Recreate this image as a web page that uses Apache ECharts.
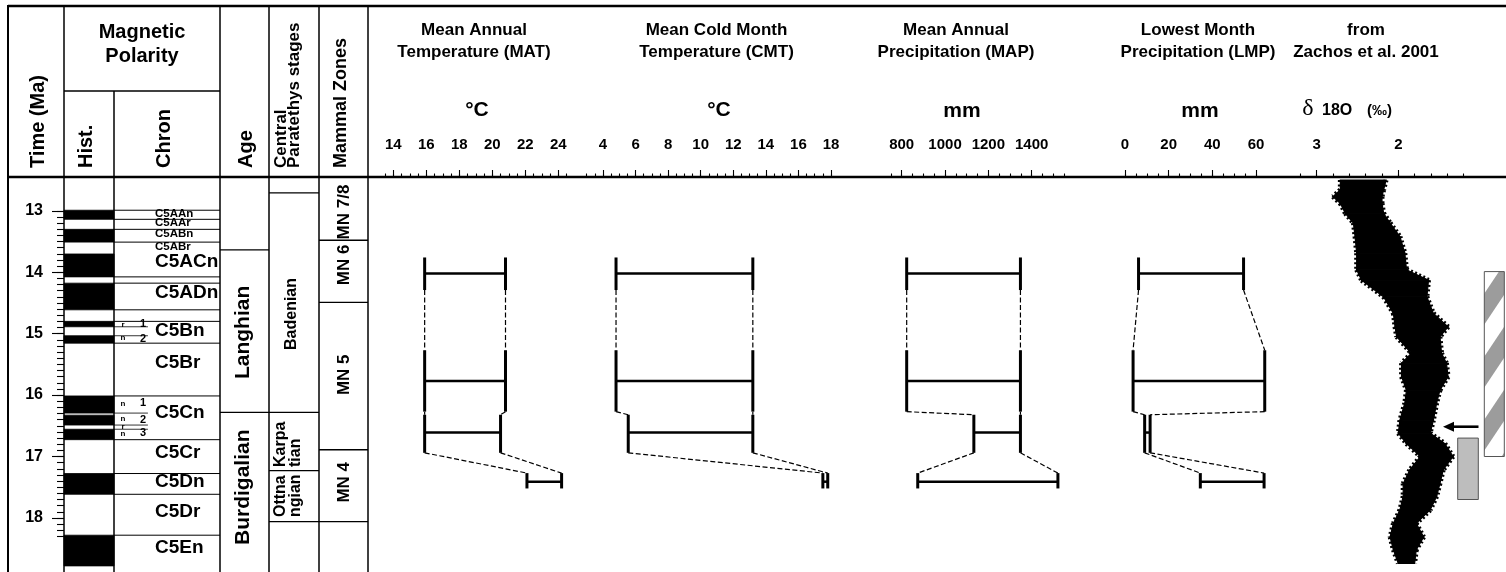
<!DOCTYPE html>
<html>
<head>
<meta charset="utf-8">
<title>Middle Miocene climate record</title>
<script src="https://cdn.jsdelivr.net/npm/echarts@6.0.0/dist/echarts.min.js"></script>
<style>
html,body{margin:0;padding:0;background:#fff;}
#chart{width:1506px;height:572px;}
</style>
</head>
<body>
<div id="chart"></div>
<script>
// ====================== DATA ======================
// time scale (Ma)
const TIME_TOP = 12.45;
const TIME_BOTTOM = 18.88;
const TIME_MAJOR = [13, 18, 1];      // min, max, interval
const TIME_MINOR = [13, 18.3, 0.1];

// magnetic polarity: normal (black) intervals, Ma
const NORMAL_TOP    = [12.991, 13.302, 13.703, 14.178, 14.800, 15.034, 16.014, 16.327, 16.556, 17.277, 18.281];
const NORMAL_BOTTOM = [13.139, 13.510, 14.076, 14.612, 14.888, 15.155, 16.293, 16.488, 16.726, 17.615, 18.781];

// chron column
const CHRON_LINES = [12.991, 13.139, 13.302, 13.510, 14.076, 14.178, 14.612, 14.800, 15.155, 16.014, 16.726, 17.277, 17.615, 18.281];
const CHRON_SMALL = ['C5AAn', 'C5AAr', 'C5ABn', 'C5ABr'];
const CHRON_SMALL_T = [13.05, 13.19, 13.38, 13.58];
const CHRON_NAMES = ['C5ACn', 'C5ADn', 'C5Bn', 'C5Br', 'C5Cn', 'C5Cr', 'C5Dn', 'C5Dr', 'C5En'];
const CHRON_T = [13.83, 14.33, 14.96, 15.48, 16.29, 16.94, 17.41, 17.90, 18.49];
const SUBCHRON_LINES = [14.888, 15.034, 16.293, 16.488, 16.556];
const SUBCHRON_TEXT = ['r', '1', 'n', '2', 'n', '1', 'n', '2', 'r', 'n', '3'];
const SUBCHRON_T = [14.85, 14.84, 15.07, 15.09, 16.14, 16.13, 16.39, 16.41, 16.52, 16.63, 16.62];

// stages / zones
const AGE_LINES = [13.635, 16.28];
const AGE_NAMES = ['Langhian', 'Burdigalian'];
const AGE_T = [14.98, 17.50];
const CP_LINES = [12.71, 16.28, 17.23, 18.06];
const CP_NAMES = ['Badenian'];
const CP_T = [14.68];
const CP_STACKED = ['Karpa\ntian', 'Ottna\nngian'];
const CP_STACKED_T = [17.17, 17.985];
const MN_LINES = [13.48, 14.49, 16.89, 18.06];
const MN_NAMES = ['MN 7/8', 'MN 6', 'MN 5', 'MN 4'];
const MN_T = [13.02, 13.88, 15.67, 17.42];

// climate time slices (Ma)
const SLICE_TOP    = [13.76, 15.27, 16.32, 17.27];
const SLICE_BOTTOM = [14.29, 16.27, 16.94, 17.52];
const SLICE_MID    = [14.02, 15.77, 16.61, 17.41];
const MAT_MIN = [15.9, 15.9, 15.9, 22.1];
const MAT_MAX = [20.8, 20.8, 20.5, 24.2];
const CMT_MIN = [4.8, 4.8, 5.55, 17.5];
const CMT_MAX = [13.2, 13.2, 13.2, 17.8];
const MAP_MIN = [823, 823, 1133, 874];
const MAP_MAX = [1348, 1348, 1348, 1521];
const LMP_MIN = [6.2, 3.7, 9.0, 34.5];
const LMP_MAX = [54.3, 64.0, 11.5, 63.7];

// axis ticks: [min, max, interval]
const MAT_MAJOR = [14, 24, 2],     MAT_MINOR = [13.5, 24.5, 0.5];
const CMT_MAJOR = [4, 18, 2],      CMT_MINOR = [3, 18, 0.5];
const MAP_MAJOR = [800, 1400, 200], MAP_MINOR = [750, 1550, 50];
const LMP_MAJOR = [0, 60, 20],     LMP_MINOR = [0, 60, 5];
const D18O_MAJOR = [2, 3, 1],      D18O_MINOR = [1.2, 3.2, 0.2];

// benthic d18O envelope (Zachos et al. 2001)
const D18O_T     = [12.50, 12.66, 12.77, 12.88, 13.04, 13.20, 13.42, 13.69, 13.96, 14.13, 14.40, 14.67, 14.89, 15.05, 15.32, 15.48, 15.70, 15.92, 16.13, 16.41, 16.62, 16.79, 17.00, 17.22, 17.44, 17.65, 17.87, 18.09, 18.31, 18.52, 18.74];
const D18O_HIGH  = [2.71, 2.71, 2.80, 2.71, 2.65, 2.55, 2.53, 2.51, 2.51, 2.45, 2.18, 2.06, 2.04, 2.02, 1.84, 1.96, 1.96, 1.90, 1.92, 1.98, 2.00, 1.90, 1.73, 1.86, 1.94, 1.94, 1.98, 2.06, 2.10, 2.06, 2.00];
const D18O_LOW   = [2.15, 2.18, 2.20, 2.20, 2.18, 2.10, 1.98, 1.92, 1.90, 1.63, 1.65, 1.57, 1.39, 1.49, 1.47, 1.41, 1.39, 1.49, 1.53, 1.57, 1.61, 1.43, 1.33, 1.45, 1.49, 1.53, 1.61, 1.78, 1.69, 1.78, 1.80];

// annotation intervals beside the d18O curve (Ma)
const HATCH_T = [13.99, 17.00];
const GREY_T = [16.70, 17.70];
const ARROW_T = [16.515];

// ====================== LAYOUT ======================
const BODY_TOP = 177, BODY_H = 395;
const FF = '"Liberation Sans", Arial, Helvetica, sans-serif';
function yOf(t) { return BODY_TOP + (t - TIME_TOP) / (TIME_BOTTOM - TIME_TOP) * BODY_H; }

// pixel anchors of each panel scale [valueA, pxA, valueB, pxB]
const ANCHOR = {
  MAT: [14, 393.3, 24, 558.3],
  CMT: [4, 603, 18, 831],
  MAP: [800, 901.7, 1400, 1031.7],
  LMP: [0, 1125, 60, 1256],
  D18O: [3, 1316.7, 2, 1398.3]
};
function pxOf(a, v) { return a[1] + (v - a[0]) * (a[3] - a[1]) / (a[2] - a[0]); }

const grids = [], xAxes = [], yAxes = [], series = [];
function addGrid(left, width, top, height, xCfg, yCfg) {
  const gi = grids.length;
  grids.push({ left: left, top: top, width: width, height: height, show: false, containLabel: false, outerBoundsMode: 'none' });
  xAxes.push(Object.assign({ gridIndex: gi, type: 'value', show: false, min: 0, max: 1 }, xCfg || {}));
  yAxes.push(Object.assign({ gridIndex: gi, type: 'value', show: false, min: TIME_TOP, max: TIME_BOTTOM, inverse: true }, yCfg || {}));
  return gi;
}

// ---- time axis ----
const tickLine = { color: '#000', width: 1.1 };
addGrid(64, 10, yOf(TIME_MAJOR[0]), yOf(TIME_MAJOR[1]) - yOf(TIME_MAJOR[0]), null, {
  show: true, position: 'left', min: TIME_MAJOR[0], max: TIME_MAJOR[1], interval: TIME_MAJOR[2], inverse: true,
  axisLine: { show: false }, splitLine: { show: false },
  axisTick: { show: true, length: 12, lineStyle: tickLine },
  axisLabel: { show: true, margin: 21, color: '#000', fontSize: 16, fontWeight: 'bold', fontFamily: FF }
});
addGrid(64, 10, yOf(TIME_MINOR[0]), yOf(TIME_MINOR[1]) - yOf(TIME_MINOR[0]), null, {
  show: true, position: 'left', min: TIME_MINOR[0], max: TIME_MINOR[1], interval: TIME_MINOR[2], inverse: true,
  axisLine: { show: false }, splitLine: { show: false },
  axisTick: { show: true, length: 7, lineStyle: tickLine },
  axisLabel: { show: false }
});

// ---- stratigraphic columns ----
const COL = { hist: [64, 114], chron: [114, 220], age: [220, 269], cp: [269, 319], mn: [319, 368] };
const gHist = addGrid(COL.hist[0], COL.hist[1] - COL.hist[0], BODY_TOP, BODY_H);
const gChron = addGrid(COL.chron[0], COL.chron[1] - COL.chron[0], BODY_TOP, BODY_H);
const gAge = addGrid(COL.age[0], COL.age[1] - COL.age[0], BODY_TOP, BODY_H);
const gCP = addGrid(COL.cp[0], COL.cp[1] - COL.cp[0], BODY_TOP, BODY_H);
const gMN = addGrid(COL.mn[0], COL.mn[1] - COL.mn[0], BODY_TOP, BODY_H);

function onGrid(gi, obj) { return Object.assign({ type: 'custom', xAxisIndex: gi, yAxisIndex: gi, silent: true, clip: false, animation: false }, obj); }

series.push(onGrid(gHist, {
  data: NORMAL_TOP.map((t, i) => [t, NORMAL_BOTTOM[i]]),
  renderItem(p, api) {
    const a = api.coord([0, api.value(0)]), b = api.coord([1, api.value(1)]);
    return { type: 'rect', shape: { x: a[0], y: a[1], width: b[0] - a[0], height: b[1] - a[1] }, style: { fill: '#000', stroke: '#000', lineWidth: 0.8 } };
  }
}));

function hLines(gi, times, x0, x1, lw) {
  return onGrid(gi, {
    data: times.map(t => [t]),
    renderItem(p, api) {
      const a = api.coord([x0, api.value(0)]), b = api.coord([x1, api.value(0)]);
      return { type: 'line', shape: { x1: a[0], y1: a[1], x2: b[0], y2: b[1] }, style: { stroke: '#000', lineWidth: lw } };
    }
  });
}
function texts(gi, names, times, xf, font, opts) {
  opts = opts || {};
  return onGrid(gi, {
    data: names.map((n, i) => [times[i], i]),
    renderItem(p, api) {
      const c = api.coord([xf, api.value(0)]);
      const st = { text: names[api.value(1)], font: font, fill: '#000', align: opts.align || 'center', verticalAlign: 'middle' };
      if (opts.lh) st.lineHeight = opts.lh;
      return { type: 'text', x: c[0], y: c[1], rotation: opts.rot || 0, style: st };
    }
  });
}
series.push(hLines(gChron, CHRON_LINES, 0, 1, 1));
series.push(hLines(gChron, SUBCHRON_LINES, 0, 0.32, 0.8));
series.push(texts(gChron, CHRON_SMALL, CHRON_SMALL_T, 0.387, 'bold 11.5px ' + FF, { align: 'left' }));
series.push(texts(gChron, CHRON_NAMES, CHRON_T, 0.387, 'bold 19px ' + FF, { align: 'left' }));
const SUB_LETTERS = SUBCHRON_TEXT.filter(s => isNaN(+s));
const SUB_LETTERS_T = SUBCHRON_T.filter((t, i) => isNaN(+SUBCHRON_TEXT[i]));
const SUB_DIGITS = SUBCHRON_TEXT.filter(s => !isNaN(+s));
const SUB_DIGITS_T = SUBCHRON_T.filter((t, i) => !isNaN(+SUBCHRON_TEXT[i]));
series.push(texts(gChron, SUB_LETTERS, SUB_LETTERS_T, 0.085, 'bold 8px ' + FF));
series.push(texts(gChron, SUB_DIGITS, SUB_DIGITS_T, 0.274, 'bold 11px ' + FF));

const ROT = Math.PI / 2;
series.push(hLines(gAge, AGE_LINES, 0, 1, 1.3));
series.push(texts(gAge, AGE_NAMES, AGE_T, 0.47, 'bold 21px ' + FF, { rot: ROT }));
series.push(hLines(gCP, CP_LINES, 0, 1, 1.3));
series.push(texts(gCP, CP_NAMES, CP_T, 0.45, 'bold 16px ' + FF, { rot: ROT }));
series.push(texts(gCP, CP_STACKED, CP_STACKED_T, 0.38, 'bold 16px ' + FF, { rot: ROT, align: 'left', lh: 15 }));
series.push(hLines(gMN, MN_LINES, 0, 1, 1.3));
series.push(texts(gMN, MN_NAMES, MN_T, 0.51, 'bold 17px ' + FF, { rot: ROT }));

// ---- climate panels ----
function panel(key, major, minor, inverse) {
  const a = ANCHOR[key];
  const p0 = pxOf(a, minor[0]), p1 = pxOf(a, minor[1]);
  const q0 = pxOf(a, major[0]), q1 = pxOf(a, major[1]);
  const base = { show: true, type: 'value', position: 'top', inverse: !!inverse,
    axisLine: { show: false }, splitLine: { show: false } };
  const gData = addGrid(Math.min(p0, p1), Math.abs(p1 - p0), BODY_TOP, BODY_H, Object.assign({}, base, {
    min: minor[0], max: minor[1], interval: minor[2],
    axisTick: { show: true, length: 3.5, lineStyle: tickLine }, axisLabel: { show: false }
  }));
  addGrid(Math.min(q0, q1), Math.abs(q1 - q0), BODY_TOP, BODY_H, Object.assign({}, base, {
    min: major[0], max: major[1], interval: major[2],
    axisTick: { show: true, length: 7, lineStyle: tickLine },
    axisLabel: { show: true, margin: 25, color: '#000', fontSize: 15, fontWeight: 'bold', fontFamily: FF,
      showMinLabel: true, showMaxLabel: true, formatter: v => String(v) }
  }));
  return gData;
}
function bars(gi, mins, maxs) {
  return onGrid(gi, {
    data: mins.map((m, i) => [m, maxs[i], SLICE_TOP[i], SLICE_BOTTOM[i], SLICE_MID[i]]),
    renderItem(p, api) {
      const lo = api.value(0), hi = api.value(1), t0 = api.value(2), t1 = api.value(3), tm = api.value(4);
      const a = api.coord([lo, t0]), b = api.coord([lo, t1]), c = api.coord([hi, t0]), d = api.coord([hi, t1]);
      const m1 = api.coord([lo, tm]), m2 = api.coord([hi, tm]);
      const cap = { stroke: '#000', lineWidth: 3 };
      return { type: 'group', children: [
        { type: 'line', shape: { x1: a[0], y1: a[1], x2: b[0], y2: b[1] }, style: cap },
        { type: 'line', shape: { x1: c[0], y1: c[1], x2: d[0], y2: d[1] }, style: cap },
        { type: 'line', shape: { x1: m1[0], y1: m1[1], x2: m2[0], y2: m2[1] }, style: { stroke: '#000', lineWidth: 2.5 } }
      ] };
    }
  });
}
function links(gi, mins, maxs) {
  const d = [];
  for (let i = 0; i < mins.length - 1; i++) {
    d.push([mins[i], SLICE_BOTTOM[i], mins[i + 1], SLICE_TOP[i + 1]]);
    d.push([maxs[i], SLICE_BOTTOM[i], maxs[i + 1], SLICE_TOP[i + 1]]);
  }
  return onGrid(gi, {
    data: d,
    renderItem(p, api) {
      const a = api.coord([api.value(0), api.value(1)]), b = api.coord([api.value(2), api.value(3)]);
      return { type: 'line', shape: { x1: a[0], y1: a[1], x2: b[0], y2: b[1] }, style: { stroke: '#000', lineWidth: 1.2, lineDash: [5, 2.5] } };
    }
  });
}
const gMAT = panel('MAT', MAT_MAJOR, MAT_MINOR);
const gCMT = panel('CMT', CMT_MAJOR, CMT_MINOR);
const gMAP = panel('MAP', MAP_MAJOR, MAP_MINOR);
const gLMP = panel('LMP', LMP_MAJOR, LMP_MINOR);
const gD18 = panel('D18O', D18O_MAJOR, D18O_MINOR, true);
[[gMAT, MAT_MIN, MAT_MAX], [gCMT, CMT_MIN, CMT_MAX], [gMAP, MAP_MIN, MAP_MAX], [gLMP, LMP_MIN, LMP_MAX]].forEach(r => {
  series.push(links(r[0], r[1], r[2]));
  series.push(bars(r[0], r[1], r[2]));
});

// d18O envelope
const cloud = [];
for (let i = 0; i < D18O_T.length - 1; i++) cloud.push([D18O_T[i], D18O_HIGH[i], D18O_LOW[i], D18O_T[i + 1], D18O_HIGH[i + 1], D18O_LOW[i + 1]]);
series.push(onGrid(gD18, {
  data: cloud,
  renderItem(p, api) {
    const l0 = api.coord([api.value(1), api.value(0)]), r0 = api.coord([api.value(2), api.value(0)]);
    const r1 = api.coord([api.value(5), api.value(3)]), l1 = api.coord([api.value(4), api.value(3)]);
    const fringe = { stroke: '#000', lineWidth: 5, lineDash: [2, 2.5] };
    return { type: 'group', children: [
      { type: 'polygon', shape: { points: [l0, r0, r1, l1] }, style: { fill: '#000', stroke: '#000', lineWidth: 1.2 } },
      { type: 'line', shape: { x1: l0[0], y1: l0[1], x2: l1[0], y2: l1[1] }, style: fringe },
      { type: 'line', shape: { x1: r0[0], y1: r0[1], x2: r1[0], y2: r1[1] }, style: fringe }
    ] };
  }
}));

// annotations beside the d18O curve
function hatchTile() {
  const W = 42, H = 63, c = document.createElement('canvas');
  c.width = W; c.height = H;
  const g = c.getContext('2d');
  g.fillStyle = '#fff'; g.fillRect(0, 0, W, H);
  g.fillStyle = '#9c9c9c';
  for (let k = -2; k <= 2; k++) {
    const y0 = k * H;
    g.beginPath(); g.moveTo(0, y0 + 63); g.lineTo(W, y0); g.lineTo(W, y0 + 31); g.lineTo(0, y0 + 94); g.closePath(); g.fill();
  }
  return c;
}
const HATCH = hatchTile();
const ANNOT_X = { hatch: [1484.3, 1504.3], grey: [1457.7, 1478.3], arrow: [1478.5, 1443] };
series.push(onGrid(gD18, {
  data: [[HATCH_T[0], HATCH_T[1], GREY_T[0], GREY_T[1], ARROW_T[0]]],
  z: 3,
  renderItem(p, api) {
    const h0 = api.coord([2, api.value(0)])[1], h1 = api.coord([2, api.value(1)])[1];
    const g0 = api.coord([2, api.value(2)])[1], g1 = api.coord([2, api.value(3)])[1];
    const ay = api.coord([2, api.value(4)])[1];
    const ax = ANNOT_X.arrow;
    return { type: 'group', children: [
      { type: 'rect', shape: { x: ANNOT_X.hatch[0], y: h0, width: ANNOT_X.hatch[1] - ANNOT_X.hatch[0], height: h1 - h0 },
        style: { fill: { image: HATCH, repeat: 'repeat' }, stroke: '#555', lineWidth: 1 } },
      { type: 'rect', shape: { x: ANNOT_X.grey[0], y: g0, width: ANNOT_X.grey[1] - ANNOT_X.grey[0], height: g1 - g0 },
        style: { fill: '#bdbdbd', stroke: '#555', lineWidth: 1 } },
      { type: 'line', shape: { x1: ax[0], y1: ay, x2: ax[1] + 8, y2: ay }, style: { stroke: '#000', lineWidth: 2.6 } },
      { type: 'polygon', shape: { points: [[ax[1], ay], [ax[1] + 11, ay - 5], [ax[1] + 11, ay + 5]] }, style: { fill: '#000' } }
    ] };
  }
}));

// ---- frame and header (layout) ----
const G = [];
function gLine(x1, y1, x2, y2, lw) { G.push({ type: 'line', z: 100, silent: true, shape: { x1, y1, x2, y2 }, style: { stroke: '#000', lineWidth: lw } }); }
function gText(text, x, y, font, opt) {
  opt = opt || {};
  const st = { text: text, font: font, fill: '#000', align: opt.align || 'center', verticalAlign: opt.va || 'middle' };
  if (opt.lh) st.lineHeight = opt.lh;
  G.push({ type: 'text', z: 100, silent: true, x: x, y: y, rotation: opt.rot || 0, style: st });
}
gLine(8, 6, 1506, 6, 2.6);
gLine(8, 177, 1506, 177, 2.6);
gLine(8, 5, 8, 572, 2);
[64, 220, 269, 319, 368].forEach(x => gLine(x, 6, x, 572, 1.5));
gLine(114, 91, 114, 572, 1.5);
gLine(64, 91, 220, 91, 1.5);

const HB = 'bold 20px ' + FF;
gText('Time (Ma)', 38, 168, HB, { rot: ROT, align: 'left' });
gText('Magnetic\nPolarity', 142, 44, HB, { lh: 24 });
gText('Hist.', 86, 168, HB, { rot: ROT, align: 'left' });
gText('Chron', 164, 168, HB, { rot: ROT, align: 'left' });
gText('Age', 246.5, 168, HB, { rot: ROT, align: 'left' });
gText('Central', 281, 168, 'bold 17px ' + FF, { rot: ROT, align: 'left' });
gText('Paratethys stages', 294.5, 168, 'bold 17px ' + FF, { rot: ROT, align: 'left' });
gText('Mammal Zones', 341, 168, 'bold 18px ' + FF, { rot: ROT, align: 'left' });

const TB = 'bold 17px ' + FF;
gText('Mean Annual\nTemperature (MAT)', 474, 41, TB, { lh: 22 });
gText('Mean Cold Month\nTemperature (CMT)', 716.5, 41, TB, { lh: 22 });
gText('Mean Annual\nPrecipitation (MAP)', 956, 41, TB, { lh: 22 });
gText('Lowest Month\nPrecipitation (LMP)', 1198, 41, TB, { lh: 22 });
gText('from\nZachos et al. 2001', 1366, 41, TB, { lh: 22 });
const UB = 'bold 21px ' + FF;
gText('°C', 477, 110, UB);
gText('°C', 719, 110, UB);
gText('mm', 962, 111, UB);
gText('mm', 1200, 111, UB);
gText('δ', 1308, 109, '24px "Liberation Serif", "DejaVu Serif", serif');
gText('18O', 1322, 111, 'bold 16px ' + FF, { align: 'left' });
gText('(‰)', 1367, 111, 'bold 15px ' + FF, { align: 'left' });

const chart = echarts.init(document.getElementById('chart'), null, { renderer: 'canvas', width: 1506, height: 572 });
chart.setOption({
  animation: false,
  backgroundColor: '#fff',
  grid: grids,
  xAxis: xAxes,
  yAxis: yAxes,
  series: series,
  graphic: G
});
</script>
</body>
</html>
